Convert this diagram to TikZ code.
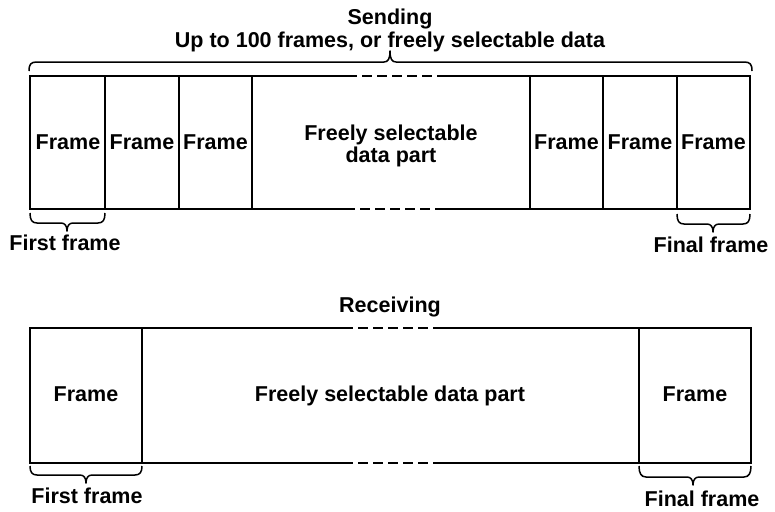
\documentclass[tikz,border=0pt]{standalone}
\usepackage{fontspec}
\setmainfont{Liberation Sans}
\begin{document}
\begin{tikzpicture}[x=1pt,y=-1pt,
  lbl/.style={inner sep=0pt,font=\bfseries\fontsize{21.5}{22}\selectfont},
  outer/.style={line width=2.2pt},
  gap/.style={line width=2.2pt,dash pattern=on 10pt off 5pt},
  divider/.style={line width=1.3pt},
  brc/.style={line width=1.5pt,line join=round}]
\useasboundingbox (0,0) rectangle (775,511);

% ---------- Sending ----------
\node[lbl,anchor=base] (send) at (390,25) {Sending};
\node[lbl,anchor=base] (sendsub) at (390,48) {Up to 100 frames, or freely selectable data};

% overall brace above the sending block
\draw[brc] (29,71) .. controls (29,64) and (31,62) .. (37,62) -- (384,62)
  .. controls (388,62) and (390,59) .. (390,51)
  .. controls (390,59) and (392,62) .. (396,62)
  -- (744,62) .. controls (750,62) and (752,64) .. (752,71);

% outline of the sending block, broken by a dashed gap
\coordinate (stl) at (30,76);  \coordinate (str) at (750,76);
\coordinate (sbl) at (30,209); \coordinate (sbr) at (750,209);
\coordinate (sgt1) at (347,76);  \coordinate (sgt2) at (437,76);
\coordinate (sgb1) at (345,209); \coordinate (sgb2) at (435,209);
\draw[outer,line join=miter] (sgt1) -- (stl) -- (sbl) -- (sgb1);
\draw[outer,line join=miter] (sgt2) -- (str) -- (sbr) -- (sgb2);
\draw[gap] (sgt1) -- (sgt2);
\draw[gap] (sgb1) -- (sgb2);

% frame dividers
\foreach \x in {105,179,252,530,603,677}
  \draw[divider] (\x,76) -- (\x,209);

% cell texts
\node[lbl] (sf1) at (68,142.5) {Frame};
\node[lbl] (sf2) at (142,142.5) {Frame};
\node[lbl] (sf3) at (215.5,142.5) {Frame};
\node[lbl,align=center] (sdata) at (391,145.5) {Freely selectable\\data part};
\node[lbl] (sf4) at (566.5,142.5) {Frame};
\node[lbl] (sf5) at (640,142.5) {Frame};
\node[lbl] (sf6) at (713.5,142.5) {Frame};

% first / final frame braces
\draw[brc] (30,213) .. controls (30,220) and (32,223) .. (37,223) -- (61,223)
  .. controls (65,223) and (67,226) .. (67,231)
  .. controls (67,226) and (69,223) .. (73,223)
  -- (98,223) .. controls (103,223) and (105,220) .. (105,213);
\node[lbl,anchor=base] (sfirst) at (65,250) {First frame};
\draw[brc] (677,214) .. controls (677,221) and (679,224) .. (684,224) -- (707,224)
  .. controls (711,224) and (713,227) .. (713,232)
  .. controls (713,227) and (715,224) .. (719,224)
  -- (743,224) .. controls (748,224) and (750,221) .. (750,214);
\node[lbl,anchor=base] (sfinal) at (711,252) {Final frame};

% ---------- Receiving ----------
\node[lbl,anchor=base] (recv) at (390,312) {Receiving};

\coordinate (rtl) at (30,328);  \coordinate (rtr) at (751,328);
\coordinate (rbl) at (30,463);  \coordinate (rbr) at (751,463);
\coordinate (rgt1) at (343,328); \coordinate (rgt2) at (435,328);
\coordinate (rgb1) at (343,463); \coordinate (rgb2) at (435,463);
\draw[outer,line join=miter] (rgt1) -- (rtl) -- (rbl) -- (rgb1);
\draw[outer,line join=miter] (rgt2) -- (rtr) -- (rbr) -- (rgb2);
\draw[gap] (rgt1) -- (rgt2);
\draw[gap] (rgb1) -- (rgb2);

\foreach \x in {142,639}
  \draw[divider] (\x,328) -- (\x,463);

\node[lbl] (rf1) at (86,394) {Frame};
\node[lbl,anchor=base] (rdata) at (390,401) {Freely selectable data part};
\node[lbl] (rf2) at (695,394) {Frame};

\draw[brc] (30,466) .. controls (30,472) and (32,475) .. (37,475) -- (80,475)
  .. controls (84,475) and (86,478) .. (86,483)
  .. controls (86,478) and (88,475) .. (92,475)
  -- (135,475) .. controls (140,475) and (142,472) .. (142,466);
\node[lbl,anchor=base] (rfirst) at (87,503) {First frame};
\draw[brc] (639,466) .. controls (639,473) and (641,477) .. (646,477) -- (687,477)
  .. controls (691,477) and (693,480) .. (693,485)
  .. controls (693,480) and (695,477) .. (699,477)
  -- (744,477) .. controls (749,477) and (751,473) .. (751,466);
\node[lbl,anchor=base] (rfinal) at (702,506) {Final frame};
\end{tikzpicture}
\end{document}
